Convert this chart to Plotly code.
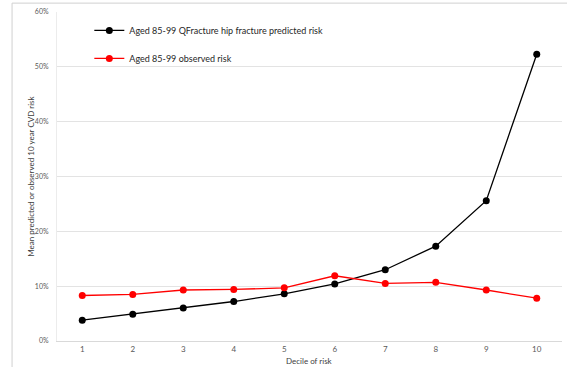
import plotly.graph_objects as go

deciles = [1, 2, 3, 4, 5, 6, 7, 8, 9, 10]
predicted = [3.8, 4.9, 6.0, 7.2, 8.6, 10.4, 13.0, 17.3, 25.6, 52.3]
observed = [8.3, 8.5, 9.3, 9.4, 9.7, 11.9, 10.5, 10.7, 9.3, 7.8]
y_ticks = [0, 10, 20, 30, 40, 50, 60]
y_tick_text = ["0%", "10%", "20%", "30%", "40%", "50%", "60%"]

FONT = "Lato, Open Sans, sans-serif"

fig = go.Figure()
fig.add_trace(go.Scatter(
    x=deciles, y=predicted, mode="lines+markers",
    name="Aged 85-99 QFracture hip fracture predicted risk",
    line=dict(color="black", width=1.3),
    marker=dict(color="black", size=7),
    legendgroup="a",
))
fig.add_trace(go.Scatter(
    x=deciles, y=observed, mode="lines+markers",
    name="Aged 85-99 observed risk",
    line=dict(color="#ff0000", width=1.3),
    marker=dict(color="#ff0000", size=7),
    legendgroup="b",
))

fig.update_layout(
    width=567, height=367,
    margin=dict(l=57, r=5, t=12, b=26),
    paper_bgcolor="white", plot_bgcolor="white",
    font=dict(family=FONT, size=8, color="#404040"),
    hovermode=False,
    showlegend=True,
    legend=dict(
        x=0.064, y=0.988, xanchor="left", yanchor="top",
        bgcolor="rgba(0,0,0,0)", font=dict(size=9, color="#262626"),
        tracegroupgap=9, itemwidth=30,
    ),
    xaxis=dict(
        range=[0.5, 10.5], tickvals=deciles, ticktext=[str(d) for d in deciles],
        showgrid=False, zeroline=False, automargin=False,
        showline=True, linecolor="#d9d9d9", linewidth=1,
        ticks="", tickfont=dict(size=8, color="#595959"),
    ),
    yaxis=dict(
        range=[0, 60], tickvals=y_ticks, ticktext=y_tick_text,
        showgrid=True, gridcolor="#e3e3e3", gridwidth=1, zeroline=False, automargin=False,
        showline=True, linecolor="#ececec", linewidth=1,
        ticks="", tickfont=dict(size=7, color="#595959"), ticklabelstandoff=6,
    ),
    annotations=[
        dict(text="Decile of risk", xref="paper", yref="paper", x=0.5, y=-0.06,
             xanchor="center", yanchor="middle", showarrow=False,
             font=dict(size=8, color="#404040")),
        dict(text="Mean predicted or observed 10 year CVD risk", xref="paper", yref="paper",
             x=-0.053, y=0.5, xanchor="center", yanchor="middle", textangle=-90, showarrow=False,
             font=dict(size=8, color="#404040")),
    ],
    shapes=[
        dict(type="line", xref="paper", yref="paper", x0=-0.089, x1=-0.089, y0=-0.2, y1=1.027,
             line=dict(color="#d0d0d0", width=1)),
        dict(type="line", xref="paper", yref="paper", x0=-0.089, x1=1.02, y0=1.027, y1=1.027,
             line=dict(color="#d0d0d0", width=1)),
    ],
)

fig.write_html("out.html", config={"displayModeBar": False},
               post_script="document.body.style.margin='0';")
